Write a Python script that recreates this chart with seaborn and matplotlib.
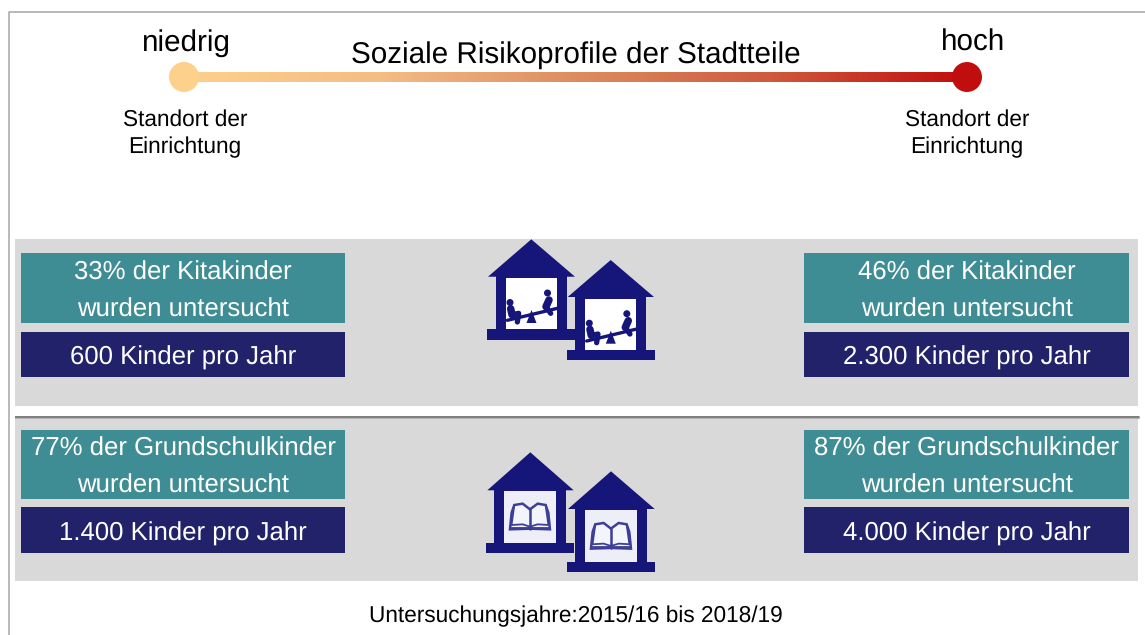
import seaborn as sns
from matplotlib import pyplot as plt
from matplotlib import patches as mpatches
from matplotlib.colors import LinearSegmentedColormap
import numpy as np
import pandas as pd

title = "Soziale Risikoprofile der Stadtteile"
risk_labels = ["niedrig", "hoch"]
site_lines = ["Standort der", "Einrichtung"]
kita_left = ["33% der Kitakinder", "wurden untersucht"]
kita_right = ["46% der Kitakinder", "wurden untersucht"]
school_left = ["77% der Grundschulkinder", "wurden untersucht"]
school_right = ["87% der Grundschulkinder", "wurden untersucht"]
kinder_labels = ["600 Kinder pro Jahr", "2.300 Kinder pro Jahr", "1.400 Kinder pro Jahr", "4.000 Kinder pro Jahr"]
footer = "Untersuchungsjahre:2015/16 bis 2018/19"

TEAL = "#3f8d94"
NAVY = "#22226a"
HOUSE = "#15157a"
GREY = "#d9d9d9"
BOOK = "#3d3f96"
LOW = "#fdd08c"
HIGH = "#c00d0d"


def box(ax, x0, x1, y0, y1, color, z=2):
	ax.add_patch(mpatches.Rectangle((x0, y0), x1 - x0, y1 - y0, facecolor=color, edgecolor="none", zorder=z))


def house(ax, apex, roof, body, base, win, wincolor):
	ax.add_patch(mpatches.Polygon([(apex[0], apex[1]), (roof[0], roof[2]), (roof[1], roof[2])], color=HOUSE, lw=0, zorder=4))
	box(ax, body[0], body[1], roof[2] - 0.5, base[2], HOUSE, 4)
	box(ax, base[0], base[1], base[2], base[3], HOUSE, 4)
	box(ax, win[0], win[1], win[2], win[3], wincolor, 5)


def seesaw(ax, x, y):
	# zoomed reference coordinates, 3 units = 1 pixel
	def pts(*p):
		return [x + a / 3 for a, b in p], [y + b / 3 for a, b in p]
	ax.plot(*pts((4, 127), (154, 91)), color=HOUSE, lw=2.4, zorder=6)
	ax.add_patch(mpatches.Polygon([(x + 25.5, y + 32), (x + 20.5, y + 45), (x + 30.5, y + 45)], color=HOUSE, lw=0, zorder=6))
	ax.add_patch(mpatches.Circle((x + 4, y + 24.5), 3.5, color=HOUSE, lw=0, zorder=6))
	ax.add_patch(mpatches.Circle((x + 41.5, y + 15), 3.5, color=HOUSE, lw=0, zorder=6))
	ax.plot(*pts((14, 92), (18, 110)), color=HOUSE, lw=5.4, zorder=6, solid_capstyle="round")
	ax.plot(*pts((18, 110), (38, 106), (34, 132)), color=HOUSE, lw=3.8, zorder=6, solid_joinstyle="round")
	ax.plot(*pts((129, 66), (120, 86)), color=HOUSE, lw=5.4, zorder=6, solid_capstyle="round")
	ax.plot(*pts((120, 86), (134, 106)), color=HOUSE, lw=3.8, zorder=6, solid_capstyle="round")


def book(ax, x, y):
	def pts(*p):
		return [(x + a / 3, y + b / 3) for a, b in p]
	ax.add_patch(mpatches.Polygon(pts((17, 115), (22, 65), (30, 42), (55, 38), (77, 55), (100, 38), (124, 42), (132, 65), (137, 115), (77, 113)), facecolor="#f4f4fb", edgecolor=BOOK, lw=1.8, zorder=6))
	ax.plot(*zip(*pts((77, 55), (77, 113))), color=BOOK, lw=1.8, zorder=7)
	ax.plot(*zip(*pts((30, 42), (22, 100))), color=BOOK, lw=1.3, zorder=7)
	ax.plot(*zip(*pts((124, 42), (132, 100))), color=BOOK, lw=1.3, zorder=7)
	ax.plot(*zip(*pts((20, 102), (55, 100), (77, 107), (100, 100), (134, 102))), color=BOOK, lw=1.3, zorder=7)
	ax.plot(*zip(*pts((18, 110), (77, 110), (136, 110))), color=BOOK, lw=1.3, zorder=7)


sns.set_theme(style="white")
plt.rcParams["font.family"] = ["Liberation Sans", "DejaVu Sans"]
plt.rcParams["text.hinting"] = "no_hinting"

fig = plt.figure(figsize=(11.45, 6.35), dpi=100)
ax = fig.add_axes([0, 0, 1, 1])

# frame
ax.plot([9, 9, 1145], [635, 12, 12], color="#a6a6a6", lw=1.1, zorder=1)

# grey bands and the white strip between them
box(ax, 15, 1138, 239, 581, GREY, 1)
box(ax, 15, 1139.5, 416, 419, "#b5b5b5", 1.4)
box(ax, 15, 1139, 416, 417.5, "#7f7f7f", 1.5)
box(ax, 15, 1138, 406, 416, "white", 1.6)

# gradient scale
cmap = LinearSegmentedColormap.from_list("risk", [LOW, "#f3bd84", "#dc8d5f", "#cf5a3c", HIGH])
ax.imshow(np.linspace(0, 1, 300).reshape(1, -1), cmap=cmap, extent=[184, 967, 82, 72], aspect="auto", zorder=2)
ends = pd.DataFrame({"x": [184, 967], "y": [77, 77], "risk": risk_labels})
sns.scatterplot(data=ends, x="x", y="y", hue="risk", palette=[LOW, HIGH], s=466, linewidth=0, legend=False, ax=ax, zorder=3)

ax.text(186, 43, risk_labels[0], fontsize=21.3, ha="center", va="center", color="black")
ax.text(973, 43, risk_labels[1], fontsize=21.3, ha="center", va="center", color="black")
ax.text(576, 55, title, fontsize=21.3, ha="center", va="center", color="black")
for xc in [185, 967]:
	ax.text(xc, 120, site_lines[0], fontsize=16.3, ha="center", va="center", color="black")
	ax.text(xc, 147, site_lines[1], fontsize=16.3, ha="center", va="center", color="black")

# info boxes
columns = [(21, 345, kita_left, school_left, 0, 2), (804, 1129, kita_right, school_right, 1, 3)]
for x0, x1, upper, lower, k_up, k_low in columns:
	xc = (x0 + x1) / 2
	box(ax, x0, x1, 253, 322.5, TEAL)
	box(ax, x0, x1, 332, 377, NAVY)
	box(ax, x0, x1, 430, 499, TEAL)
	box(ax, x0, x1, 507, 553, NAVY)
	for yy, lines in [(273, upper), (449.5, lower)]:
		ax.text(xc, yy, lines[0], fontsize=18.5, ha="center", va="center", color="white", zorder=6)
		ax.text(xc, yy + 37, lines[1], fontsize=18.5, ha="center", va="center", color="white", zorder=6)
	ax.text(xc, 358, kinder_labels[k_up], fontsize=18.5, ha="center", va="center", color="white", zorder=6)
	ax.text(xc, 534, kinder_labels[k_low], fontsize=18.5, ha="center", va="center", color="white", zorder=6)

# houses, kita pair
house(ax, (531.3, 239.3), (488, 575, 276.7), (496, 567), (487, 576, 329, 340), (506, 557, 278, 329), "white")
house(ax, (610.7, 260), (567.7, 654, 297), (575, 646), (566.7, 655, 350, 360), (585.3, 636.3, 298.7, 350), "white")
seesaw(ax, 506, 278)
seesaw(ax, 585.3, 298.7)

# houses, school pair
house(ax, (530.3, 452.3), (487.3, 573.7, 490.3), (494.3, 566.3), (485.7, 574, 543.3, 553.3), (504.3, 556.3, 491, 543), "#eeeef8")
house(ax, (611, 471.3), (568, 654.7, 509), (575.3, 647.3), (566.7, 655, 562, 572.3), (585.3, 637, 510.3, 562), "#eeeef8")
book(ax, 504.3, 491)
book(ax, 585.3, 510.3)

ax.text(575.5, 616, footer, fontsize=16.3, ha="center", va="center", color="black")

ax.set_xlim(0, 1145)
ax.set_ylim(635, 0)
ax.axis("off")
fig.savefig("out.png", dpi=100, facecolor="white")
